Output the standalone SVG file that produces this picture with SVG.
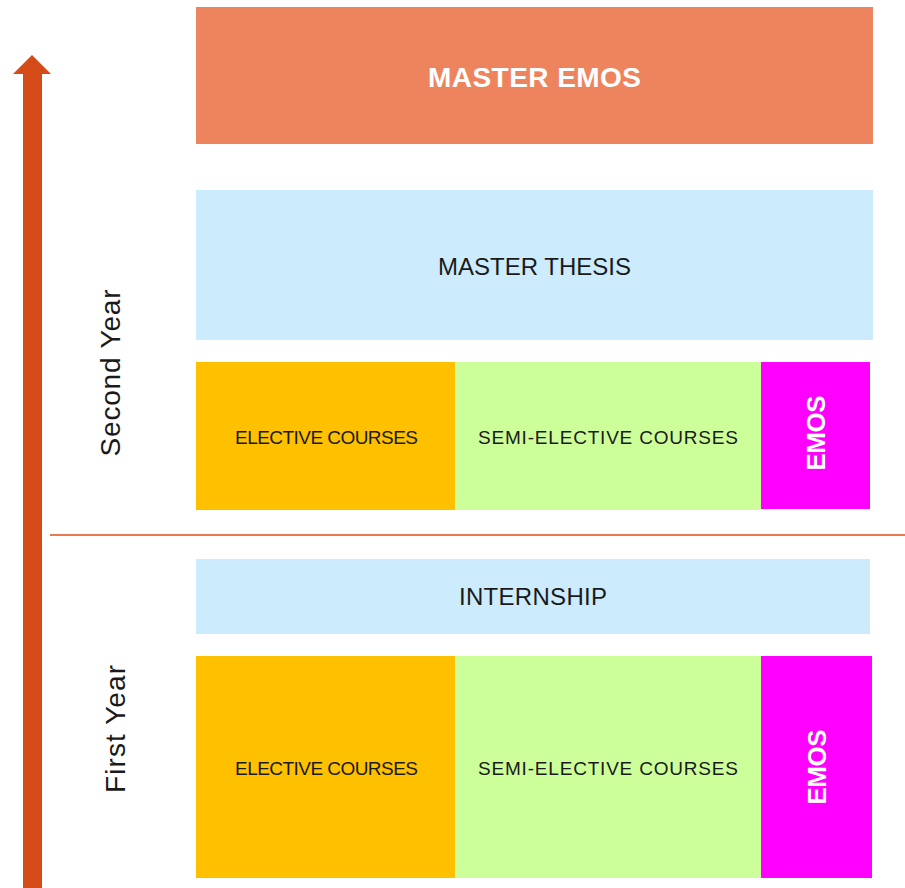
<svg xmlns="http://www.w3.org/2000/svg" width="905" height="888" viewBox="0 0 905 888">
<style>
.t{font-family:"Liberation Sans",Arial,sans-serif;dominant-baseline:central;text-anchor:middle}
.dark{fill:#1a1a1a}
.w{fill:#ffffff;font-weight:bold}
.blue{fill:#CCEBFD}
.orange{fill:#FFC000}
.green{fill:#CCFF99}
.mag{fill:#FF00FF}
</style>
<rect width="905" height="888" fill="#ffffff"/>
<g id="connectors">
<path d="M23 888 V74 H13 L32 55 L51 74 H42 V888 Z" fill="#D44B17"/>
<line x1="50" y1="535" x2="905" y2="535" stroke="#E97A4F" stroke-width="2"/>
</g>
<g id="label-second-year"><text class="t dark" x="0" y="0" font-size="28" textLength="167" transform="translate(110 373) rotate(-90)">Second Year</text></g>
<g id="label-first-year"><text class="t dark" x="0" y="0" font-size="28" textLength="128" transform="translate(115 729) rotate(-90)">First Year</text></g>
<g id="master-emos"><rect x="196" y="7" width="677" height="137" fill="#ED845E"/><text class="t w" x="534.5" y="77" font-size="28" textLength="213">MASTER EMOS</text></g>
<g id="master-thesis"><rect class="blue" x="196" y="190" width="677" height="150"/><text class="t dark" x="534.5" y="266" font-size="24" textLength="193">MASTER THESIS</text></g>
<g id="elective-2"><rect class="orange" x="196" y="362" width="259" height="148"/><text class="t dark" x="326.5" y="437" font-size="19" textLength="183">ELECTIVE COURSES</text></g>
<g id="semi-elective-2"><rect class="green" x="455" y="362" width="306" height="148"/><text class="t dark" x="608" y="437" font-size="19" textLength="260">SEMI-ELECTIVE COURSES</text></g>
<g id="emos-2"><rect class="mag" x="761" y="362" width="109" height="147"/><text class="t w" x="0" y="0" font-size="26" textLength="75" transform="translate(816 433) rotate(-90)">EMOS</text></g>
<g id="internship"><rect class="blue" x="196" y="559" width="674" height="75"/><text class="t dark" x="533" y="596" font-size="24" textLength="148">INTERNSHIP</text></g>
<g id="elective-1"><rect class="orange" x="196" y="656" width="259" height="222"/><text class="t dark" x="326.5" y="768" font-size="19" textLength="183">ELECTIVE COURSES</text></g>
<g id="semi-elective-1"><rect class="green" x="455" y="656" width="306" height="222"/><text class="t dark" x="608" y="768" font-size="19" textLength="260">SEMI-ELECTIVE COURSES</text></g>
<g id="emos-1"><rect class="mag" x="761" y="656" width="111" height="222"/><text class="t w" x="0" y="0" font-size="26" textLength="75" transform="translate(817 767) rotate(-90)">EMOS</text></g>
</svg>
